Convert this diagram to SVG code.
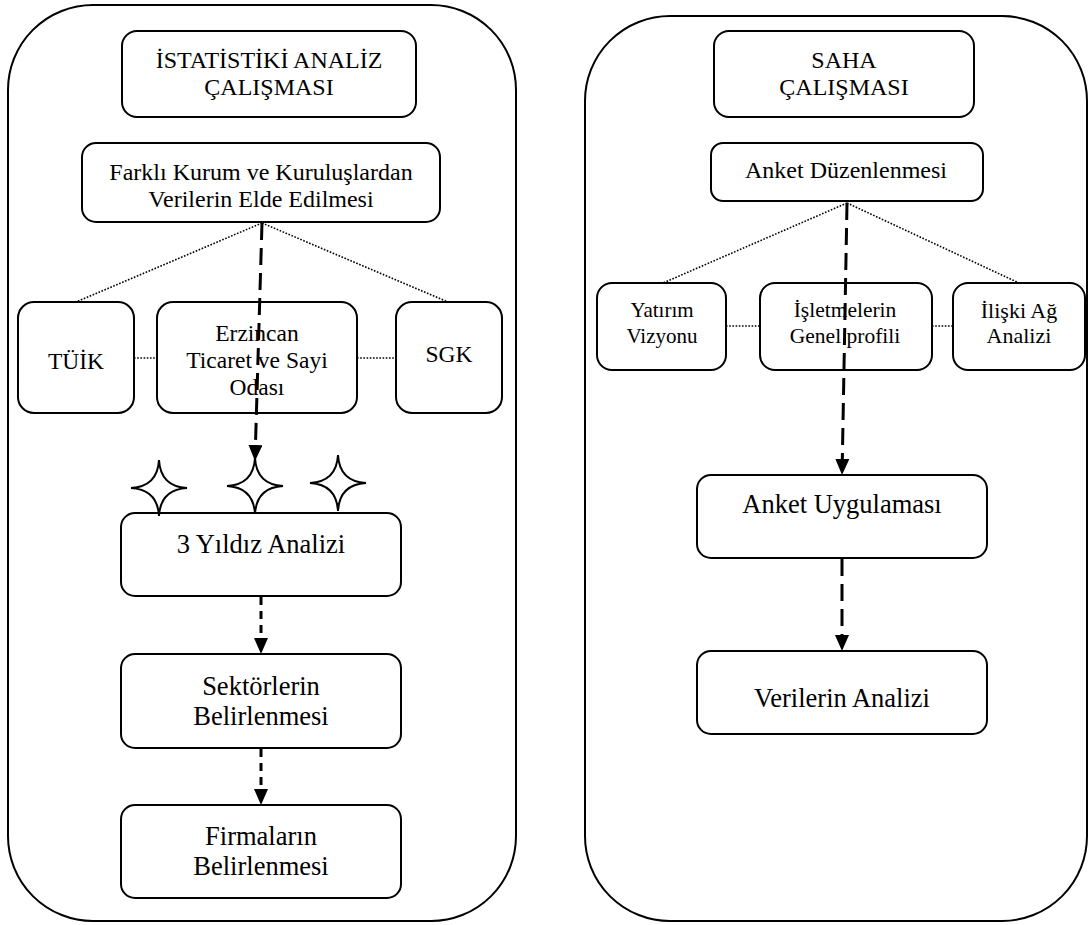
<svg xmlns="http://www.w3.org/2000/svg" width="1089" height="925" viewBox="0 0 1089 925">
<style>
  .frame { fill: #fff; stroke: #000; stroke-width: 2; }
  .box { fill: #fff; stroke: #000; stroke-width: 2; }
  .t { font-family: "Liberation Serif", "Times New Roman", serif; fill: #000; text-anchor: middle; }
  .dot { fill: none; stroke: #000; stroke-width: 1.6; stroke-dasharray: 1.6 1.6; }
  .dashL { fill: none; stroke: #000; stroke-width: 3; stroke-dasharray: 17 8; }
  .dashS { fill: none; stroke: #000; stroke-width: 3; stroke-dasharray: 8 6; }
  .star { fill: #fff; stroke: #000; stroke-width: 2; stroke-linejoin: miter; }
</style>
<defs>
  <marker id="ah" viewBox="0 0 16 14" refX="2" refY="7" markerWidth="16" markerHeight="14" markerUnits="userSpaceOnUse" orient="auto">
    <path d="M0,0 L16,7 L0,14 Z" fill="#000"/>
  </marker>
  <path id="starShape" d="M0,-28 Q1.5,-1.5 28,0 Q1.5,1.5 0,28 Q-1.5,1.5 -28,0 Q-1.5,-1.5 0,-28 Z"/>
</defs>
<rect width="1089" height="925" fill="#fff"/>

<g id="panel-left">
  <rect class="frame" x="8" y="5" width="508" height="916" rx="85" ry="85"/>
</g>
<g id="panel-right">
  <rect class="frame" x="585" y="16" width="502" height="905" rx="85" ry="85"/>
</g>

<g id="n-istatistik">
  <rect class="box" x="122" y="31" width="294" height="86" rx="15"/>
  <text class="t" font-size="24"><tspan x="269" y="68">İSTATİSTİKİ ANALİZ</tspan><tspan x="269" y="95">ÇALIŞMASI</tspan></text>
</g>
<g id="n-farkli">
  <rect class="box" x="82" y="143" width="358" height="79" rx="14"/>
  <text class="t" font-size="24"><tspan x="261" y="180">Farklı Kurum ve Kuruluşlardan</tspan><tspan x="261" y="207">Verilerin Elde Edilmesi</tspan></text>
</g>
<g id="n-tuik">
  <rect class="box" x="18" y="302" width="116" height="111" rx="16"/>
  <text class="t" font-size="23.5" x="76" y="369">TÜİK</text>
</g>
<g id="n-erzincan">
  <rect class="box" x="157" y="302" width="200" height="111" rx="16"/>
  <text class="t" font-size="23.5"><tspan x="257" y="341">Erzincan</tspan><tspan x="257" y="368">Ticaret ve Sayi</tspan><tspan x="257" y="394.5">Odası</tspan></text>
</g>
<g id="n-sgk">
  <rect class="box" x="396" y="302" width="106" height="111" rx="16"/>
  <text class="t" font-size="23.5" x="449" y="362">SGK</text>
</g>
<g id="n-yildiz">
  <rect class="box" x="121" y="513" width="280" height="83" rx="14"/>
  <text class="t" font-size="26.5" x="261" y="553">3 Yıldız Analizi</text>
</g>
<g id="stars">
  <use href="#starShape" class="star" x="159" y="488"/>
  <use href="#starShape" class="star" x="255" y="486"/>
  <use href="#starShape" class="star" x="338" y="483"/>
</g>
<g id="n-sektor">
  <rect class="box" x="121" y="654" width="280" height="94" rx="14"/>
  <text class="t" font-size="26.5"><tspan x="261" y="695">Sektörlerin</tspan><tspan x="261" y="725">Belirlenmesi</tspan></text>
</g>
<g id="n-firma">
  <rect class="box" x="121" y="805" width="280" height="93" rx="14"/>
  <text class="t" font-size="26.5"><tspan x="261" y="845">Firmaların</tspan><tspan x="261" y="875">Belirlenmesi</tspan></text>
</g>

<g id="n-saha">
  <rect class="box" x="714" y="31" width="260" height="86" rx="15"/>
  <text class="t" font-size="24"><tspan x="844" y="68">SAHA</tspan><tspan x="844" y="95">ÇALIŞMASI</tspan></text>
</g>
<g id="n-anketduz">
  <rect class="box" x="711" y="143" width="272" height="58" rx="12"/>
  <text class="t" font-size="24" x="846" y="178">Anket Düzenlenmesi</text>
</g>
<g id="n-yatirim">
  <rect class="box" x="597" y="283" width="129" height="87" rx="15"/>
  <text class="t" font-size="21"><tspan x="662" y="317">Yatırım</tspan><tspan x="662" y="343">Vizyonu</tspan></text>
</g>
<g id="n-isletme">
  <rect class="box" x="760" y="283" width="172" height="87" rx="15"/>
  <text class="t" font-size="21.5"><tspan x="845" y="317">İşletmelerin</tspan><tspan x="845" y="343">Genel profili</tspan></text>
</g>
<g id="n-iliski">
  <rect class="box" x="953" y="283" width="132" height="87" rx="15"/>
  <text class="t" font-size="22"><tspan x="1019" y="318">İlişki Ağ</tspan><tspan x="1019" y="343">Analizi</tspan></text>
</g>
<g id="n-uygulama">
  <rect class="box" x="697" y="475" width="290" height="83" rx="14"/>
  <text class="t" font-size="26.5" x="842" y="513">Anket Uygulaması</text>
</g>
<g id="n-verilerin">
  <rect class="box" x="697" y="651" width="290" height="83" rx="14"/>
  <text class="t" font-size="26.5" x="842" y="707">Verilerin Analizi</text>
</g>

<g id="connectors">
  <line class="dot" x1="262" y1="223" x2="76" y2="302"/>
  <line class="dot" x1="262" y1="223" x2="448" y2="302"/>
  <line class="dot" x1="134" y1="358" x2="157" y2="358"/>
  <line class="dot" x1="357" y1="358" x2="396" y2="358"/>
  <line class="dashL" x1="262" y1="223" x2="255.4" y2="447" marker-end="url(#ah)"/>
  <line class="dashS" x1="261" y1="597" x2="261" y2="640" marker-end="url(#ah)"/>
  <line class="dashS" x1="261" y1="749" x2="261" y2="791" marker-end="url(#ah)"/>

  <line class="dot" x1="847" y1="203" x2="663" y2="283"/>
  <line class="dot" x1="847" y1="203" x2="1019" y2="283"/>
  <line class="dot" x1="726" y1="326" x2="760" y2="326"/>
  <line class="dot" x1="932" y1="326" x2="953" y2="326"/>
  <line class="dashL" x1="847" y1="203" x2="842.3" y2="461" marker-end="url(#ah)"/>
  <line class="dashL" x1="842" y1="559" x2="842" y2="637" marker-end="url(#ah)"/>
</g>
</svg>
